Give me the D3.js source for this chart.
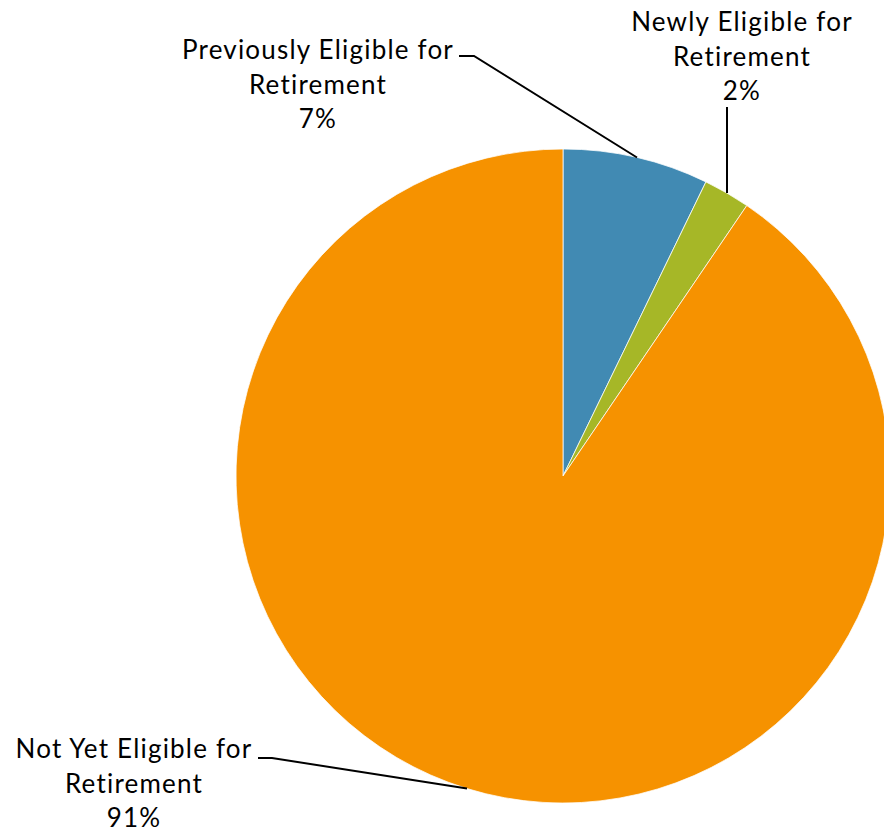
<!DOCTYPE html>
<html>
<head>
<meta charset="utf-8">
<script src="https://cdn.jsdelivr.net/npm/d3@7"></script>
<style>
  body { margin: 0; background: #fff; }
  svg text { font-family: "Lato", "DejaVu Sans", sans-serif; fill: #000; }
</style>
</head>
<body>
<div id="pie-chart"></div>
<script>
// slice data, clockwise from 12 o'clock
var categories = ["Previously Eligible for Retirement", "Newly Eligible for Retirement", "Not Yet Eligible for Retirement"];
var labelLines = [["Previously Eligible for", "Retirement"], ["Newly Eligible for", "Retirement"], ["Not Yet Eligible for", "Retirement"]];
var values = [7.2, 2.3, 90.5];
var colors = ["#418AB3", "#A6B727", "#F69200"];

var width = 884, height = 830;
var cx = 563, cy = 476, radius = 327;

var svg = d3.select("#pie-chart").append("svg")
    .attr("width", width)
    .attr("height", height);

var g = svg.append("g")
    .attr("transform", "translate(" + cx + "," + cy + ")");

var pie = d3.pie().sort(null).value(function(d) { return d; });
var arcs = pie(values);
var arc = d3.arc().innerRadius(0).outerRadius(radius);

g.selectAll("path.slice")
    .data(arcs)
    .enter().append("path")
    .attr("class", "slice")
    .attr("d", arc)
    .style("fill", function(d, i) { return colors[i]; })
    .style("stroke", "#fff")
    .style("stroke-width", 0.75);

var total = d3.sum(values);
function pct(v) { return Math.round(v / total * 100) + "%"; }

// label block centre + first baseline, leader elbow, and x where the leader hits the rim
var labelPos = [
  { x: 318, y: 59, elbow: [[459, 56], [474, 56]], rimX: 637, side: -1 },
  { x: 742, y: 31, elbow: [[727, 107]], rimX: 727, side: -1 },
  { x: 134, y: 758, elbow: [[258, 758], [272, 758]], rimX: 467, side: 1 }
];
var lineH = 34.5;

function rimPoint(x, side) {
  return [x, cy + side * Math.sqrt(radius * radius - Math.pow(x - cx, 2))];
}

arcs.forEach(function(d, i) {
  var p = labelPos[i];
  var pts = p.elbow.concat([rimPoint(p.rimX, p.side)]);
  svg.append("path")
      .attr("d", d3.line()(pts))
      .style("fill", "none")
      .style("stroke", "#000")
      .style("stroke-width", 2);

  var t = svg.append("text")
      .attr("text-anchor", "middle")
      .style("font-size", "26px")
      .style("letter-spacing", "1.2px");
  labelLines[i].concat([pct(values[i])]).forEach(function(s, k) {
    t.append("tspan")
        .attr("x", p.x)
        .attr("y", p.y + k * lineH)
        .text(s);
  });
});
</script>
</body>
</html>
